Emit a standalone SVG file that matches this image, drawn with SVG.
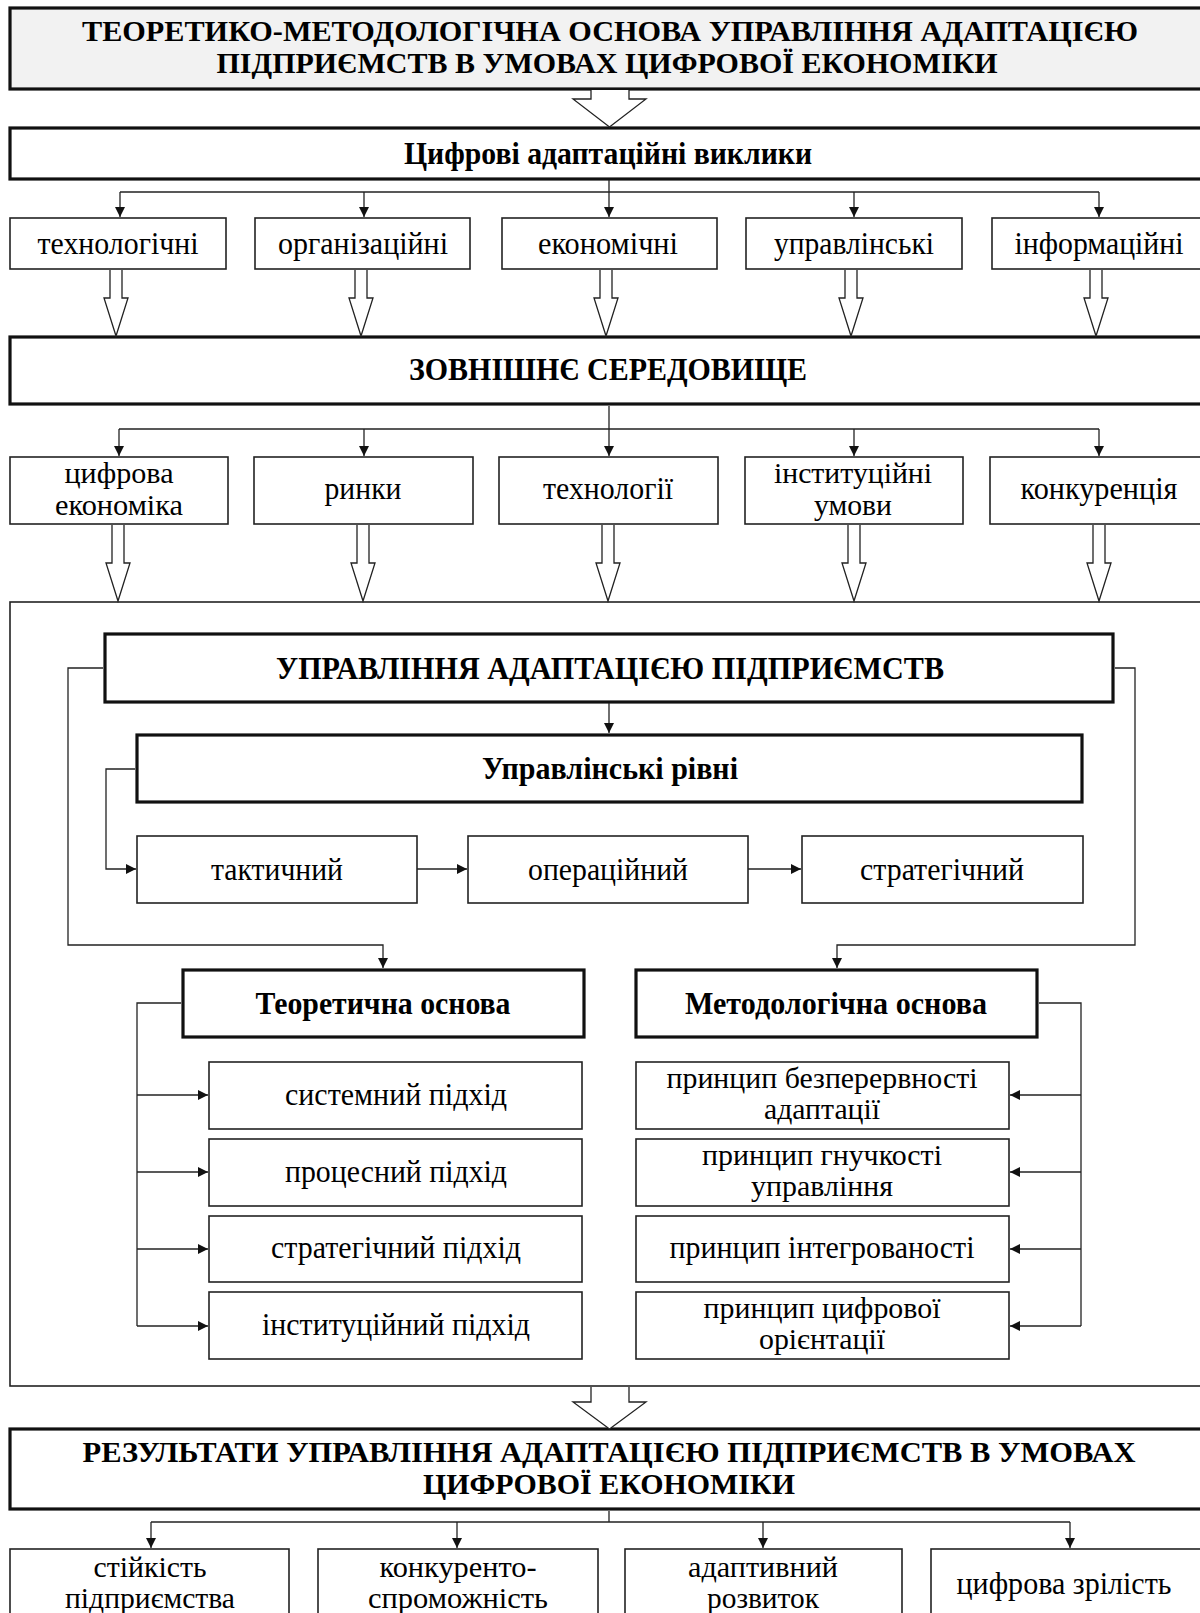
<svg xmlns="http://www.w3.org/2000/svg" width="1200" height="1613" viewBox="0 0 1200 1613">
<defs>
<marker id="ah" viewBox="0 0 10 10" refX="10" refY="5" markerWidth="11" markerHeight="10" markerUnits="userSpaceOnUse" orient="auto">
<path d="M0,0 L10,5 L0,10 z" fill="#111"/>
</marker>
<style>
.tb{fill:#fff;stroke:#111;stroke-width:3.2}
.tt{fill:#f2f2f2;stroke:#111;stroke-width:3.2}
.nb{fill:#fff;stroke:#222;stroke-width:1.6}
.c{fill:none;stroke:#222;stroke-width:1.3;marker-end:url(#ah)}
.l{fill:none;stroke:#222;stroke-width:1.3}
.h{fill:#fff;stroke:#222;stroke-width:1.3}
text{font-family:"Liberation Serif","Times New Roman",serif;fill:#000;text-anchor:middle}
.b{font-weight:bold;font-size:32px}
.bt{font-weight:bold;font-size:30px}
.r{font-size:32px}
.r2{font-size:30px}
</style>
</defs>

<g id="title">
<rect class="tt" x="10" y="8" width="1196" height="81"/>
<text class="bt" x="610" y="41" textLength="1056" lengthAdjust="spacingAndGlyphs">ТЕОРЕТИКО-МЕТОДОЛОГІЧНА ОСНОВА УПРАВЛІННЯ АДАПТАЦІЄЮ</text>
<text class="bt" x="607" y="73" textLength="781" lengthAdjust="spacingAndGlyphs">ПІДПРИЄМСТВ В УМОВАХ ЦИФРОВОЇ ЕКОНОМІКИ</text>
</g>

<g id="challenges">
<rect class="tb" x="10" y="128" width="1196" height="51"/>
<text class="b" x="608" y="164" textLength="408" lengthAdjust="spacingAndGlyphs">Цифрові адаптаційні виклики</text>
</g>

<g id="ch-tech"><rect class="nb" x="10" y="218" width="216" height="51"/><text class="r" x="118" y="254" textLength="161" lengthAdjust="spacingAndGlyphs">технологічні</text></g>
<g id="ch-org"><rect class="nb" x="255" y="218" width="215" height="51"/><text class="r" x="363" y="254" textLength="170" lengthAdjust="spacingAndGlyphs">організаційні</text></g>
<g id="ch-econ"><rect class="nb" x="502" y="218" width="215" height="51"/><text class="r" x="608" y="254" textLength="140" lengthAdjust="spacingAndGlyphs">економічні</text></g>
<g id="ch-mgmt"><rect class="nb" x="746" y="218" width="216" height="51"/><text class="r" x="854" y="254" textLength="160" lengthAdjust="spacingAndGlyphs">управлінські</text></g>
<g id="ch-info"><rect class="nb" x="992" y="218" width="216" height="51"/><text class="r" x="1099" y="254" textLength="169" lengthAdjust="spacingAndGlyphs">інформаційні</text></g>

<g id="environment">
<rect class="tb" x="10" y="337" width="1196" height="67"/>
<text class="b" x="608" y="380" textLength="398" lengthAdjust="spacingAndGlyphs">ЗОВНІШНЄ СЕРЕДОВИЩЕ</text>
</g>

<g id="env-digital"><rect class="nb" x="10" y="457" width="218" height="67"/><text class="r2" x="119" y="483" textLength="109" lengthAdjust="spacingAndGlyphs">цифрова</text><text class="r2" x="119" y="515" textLength="128" lengthAdjust="spacingAndGlyphs">економіка</text></g>
<g id="env-markets"><rect class="nb" x="254" y="457" width="219" height="67"/><text class="r" x="363" y="499" textLength="77" lengthAdjust="spacingAndGlyphs">ринки</text></g>
<g id="env-tech"><rect class="nb" x="499" y="457" width="219" height="67"/><text class="r" x="608" y="499" textLength="130" lengthAdjust="spacingAndGlyphs">технології</text></g>
<g id="env-inst"><rect class="nb" x="745" y="457" width="218" height="67"/><text class="r2" x="853" y="483" textLength="158" lengthAdjust="spacingAndGlyphs">інституційні</text><text class="r2" x="853" y="515" textLength="78" lengthAdjust="spacingAndGlyphs">умови</text></g>
<g id="env-comp"><rect class="nb" x="990" y="457" width="218" height="67"/><text class="r" x="1099" y="499" textLength="157" lengthAdjust="spacingAndGlyphs">конкуренція</text></g>

<g id="container"><rect class="nb" x="10" y="602" width="1196" height="784"/></g>

<g id="management">
<rect class="tb" x="105" y="634" width="1008" height="68"/>
<text class="b" x="610" y="679" textLength="668" lengthAdjust="spacingAndGlyphs">УПРАВЛІННЯ АДАПТАЦІЄЮ ПІДПРИЄМСТВ</text>
</g>
<g id="levels">
<rect class="tb" x="137" y="735" width="945" height="67"/>
<text class="b" x="610" y="779" textLength="256" lengthAdjust="spacingAndGlyphs">Управлінські рівні</text>
</g>
<g id="lvl-tactical"><rect class="nb" x="137" y="836" width="280" height="67"/><text class="r" x="277" y="880" textLength="132" lengthAdjust="spacingAndGlyphs">тактичний</text></g>
<g id="lvl-operational"><rect class="nb" x="468" y="836" width="280" height="67"/><text class="r" x="608" y="880" textLength="160" lengthAdjust="spacingAndGlyphs">операційний</text></g>
<g id="lvl-strategic"><rect class="nb" x="802" y="836" width="281" height="67"/><text class="r" x="942" y="880" textLength="164" lengthAdjust="spacingAndGlyphs">стратегічний</text></g>

<g id="theory">
<rect class="tb" x="183" y="970" width="401" height="67"/>
<text class="b" x="383" y="1014" textLength="255" lengthAdjust="spacingAndGlyphs">Теоретична основа</text>
</g>
<g id="method">
<rect class="tb" x="636" y="970" width="401" height="67"/>
<text class="b" x="836" y="1014" textLength="302" lengthAdjust="spacingAndGlyphs">Методологічна основа</text>
</g>

<g id="th-system"><rect class="nb" x="209" y="1062" width="373" height="67"/><text class="r" x="396" y="1105" textLength="222" lengthAdjust="spacingAndGlyphs">системний підхід</text></g>
<g id="th-process"><rect class="nb" x="209" y="1139" width="373" height="67"/><text class="r" x="396" y="1182" textLength="222" lengthAdjust="spacingAndGlyphs">процесний підхід</text></g>
<g id="th-strategic"><rect class="nb" x="209" y="1216" width="373" height="66"/><text class="r" x="396" y="1258" textLength="250" lengthAdjust="spacingAndGlyphs">стратегічний підхід</text></g>
<g id="th-inst"><rect class="nb" x="209" y="1292" width="373" height="67"/><text class="r" x="396" y="1335" textLength="268" lengthAdjust="spacingAndGlyphs">інституційний підхід</text></g>

<g id="m-continuity"><rect class="nb" x="636" y="1062" width="373" height="67"/><text class="r2" x="822" y="1088" textLength="311" lengthAdjust="spacingAndGlyphs">принцип безперервності</text><text class="r2" x="822" y="1119" textLength="116" lengthAdjust="spacingAndGlyphs">адаптації</text></g>
<g id="m-flex"><rect class="nb" x="636" y="1139" width="373" height="67"/><text class="r2" x="822" y="1165" textLength="240" lengthAdjust="spacingAndGlyphs">принцип гнучкості</text><text class="r2" x="822" y="1196" textLength="142" lengthAdjust="spacingAndGlyphs">управління</text></g>
<g id="m-integr"><rect class="nb" x="636" y="1216" width="373" height="66"/><text class="r" x="822" y="1258" textLength="305" lengthAdjust="spacingAndGlyphs">принцип інтегрованості</text></g>
<g id="m-digital"><rect class="nb" x="636" y="1292" width="373" height="67"/><text class="r2" x="822" y="1318" textLength="237" lengthAdjust="spacingAndGlyphs">принцип цифрової</text><text class="r2" x="822" y="1349" textLength="126" lengthAdjust="spacingAndGlyphs">орієнтації</text></g>

<g id="results">
<rect class="tb" x="10" y="1429" width="1196" height="80"/>
<text class="bt" x="609" y="1462" textLength="1053" lengthAdjust="spacingAndGlyphs">РЕЗУЛЬТАТИ УПРАВЛІННЯ АДАПТАЦІЄЮ ПІДПРИЄМСТВ В УМОВАХ</text>
<text class="bt" x="609" y="1494" textLength="372" lengthAdjust="spacingAndGlyphs">ЦИФРОВОЇ ЕКОНОМІКИ</text>
</g>

<g id="res-stability"><rect class="nb" x="10" y="1549" width="279" height="80"/><text class="r2" x="150" y="1577" textLength="113" lengthAdjust="spacingAndGlyphs">стійкість</text><text class="r2" x="150" y="1608" textLength="170" lengthAdjust="spacingAndGlyphs">підприємства</text></g>
<g id="res-compet"><rect class="nb" x="318" y="1549" width="280" height="80"/><text class="r2" x="458" y="1577" textLength="157" lengthAdjust="spacingAndGlyphs">конкуренто-</text><text class="r2" x="458" y="1608" textLength="180" lengthAdjust="spacingAndGlyphs">спроможність</text></g>
<g id="res-adaptive"><rect class="nb" x="625" y="1549" width="277" height="80"/><text class="r2" x="763" y="1577" textLength="150" lengthAdjust="spacingAndGlyphs">адаптивний</text><text class="r2" x="763" y="1608" textLength="112" lengthAdjust="spacingAndGlyphs">розвиток</text></g>
<g id="res-maturity"><rect class="nb" x="931" y="1549" width="279" height="80"/><text class="r" x="1064" y="1594" textLength="215" lengthAdjust="spacingAndGlyphs">цифрова зрілість</text></g>

<g id="connectors">
<path class="h" d="M591,90 L591,99 L573,99 L609.5,127 L646,99 L629,99 L629,90"/>
<path class="h" d="M591,1387 L591,1402 L573,1402 L609.5,1429 L646,1402 L629,1402 L629,1387"/>
<path class="h" d="M110,270 L110,298 L104,298 L116,336 L128,298 L122,298 L122,270"/>
<path class="h" d="M355,270 L355,298 L349,298 L361,336 L373,298 L367,298 L367,270"/>
<path class="h" d="M600,270 L600,298 L594,298 L606,336 L618,298 L612,298 L612,270"/>
<path class="h" d="M845,270 L845,298 L839,298 L851,336 L863,298 L857,298 L857,270"/>
<path class="h" d="M1090,270 L1090,298 L1084,298 L1096,336 L1108,298 L1102,298 L1102,270"/>
<path class="h" d="M112,525 L112,563 L106,563 L118,601 L130,563 L124,563 L124,525"/>
<path class="h" d="M357,525 L357,563 L351,563 L363,601 L375,563 L369,563 L369,525"/>
<path class="h" d="M602,525 L602,563 L596,563 L608,601 L620,563 L614,563 L614,525"/>
<path class="h" d="M848,525 L848,563 L842,563 L854,601 L866,563 L860,563 L860,525"/>
<path class="h" d="M1093,525 L1093,563 L1087,563 L1099,601 L1111,563 L1105,563 L1105,525"/>

<path class="l" d="M609,180 V192 M120,192 H1099"/>
<path class="c" d="M120,192 V217"/>
<path class="c" d="M364,192 V217"/>
<path class="c" d="M609,192 V217"/>
<path class="c" d="M854,192 V217"/>
<path class="c" d="M1099,192 V217"/>
<path class="l" d="M609,406 V429 M119,429 H1099"/>
<path class="c" d="M119,429 V456"/>
<path class="c" d="M364,429 V456"/>
<path class="c" d="M609,429 V456"/>
<path class="c" d="M854,429 V456"/>
<path class="c" d="M1099,429 V456"/>
<path class="c" d="M609,703 V733"/>
<path class="c" d="M103,668 H68 V945 H383 V968"/>
<path class="c" d="M1115,668 H1135 V945 H837 V968"/>
<path class="c" d="M135,769 H106 V869 H136"/>
<path class="c" d="M417,869 H467"/>
<path class="c" d="M748,869 H801"/>
<path class="l" d="M181,1003 H137 V1326"/>
<path class="c" d="M137,1095 H208"/>
<path class="c" d="M137,1172 H208"/>
<path class="c" d="M137,1249 H208"/>
<path class="c" d="M137,1326 H208"/>
<path class="l" d="M1039,1003 H1081 V1326"/>
<path class="c" d="M1081,1095 H1010"/>
<path class="c" d="M1081,1172 H1010"/>
<path class="c" d="M1081,1249 H1010"/>
<path class="c" d="M1081,1326 H1010"/>
<path class="l" d="M609,1511 V1522 M151,1522 H1070"/>
<path class="c" d="M151,1522 V1548"/>
<path class="c" d="M457,1522 V1548"/>
<path class="c" d="M763,1522 V1548"/>
<path class="c" d="M1070,1522 V1548"/>
</g>
</svg>
